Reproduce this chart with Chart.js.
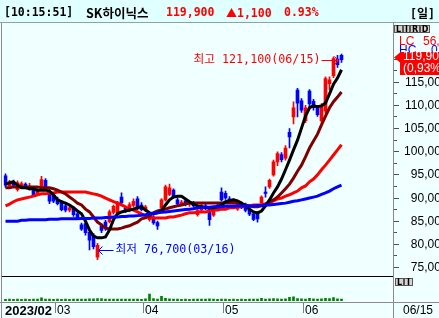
<!DOCTYPE html>
<html lang="ko">
<head>
<meta charset="utf-8">
<title>SK하이닉스</title>
<script src="https://cdn.jsdelivr.net/npm/chart.js@4.4.1/dist/chart.umd.min.js"></script>
<style>
html,body{margin:0;padding:0;width:439px;height:318px;overflow:hidden;background:#F0FFFF;}
#wrap{position:relative;width:439px;height:318px;overflow:hidden;}
#c{position:absolute;left:0;top:0;}
#hdr{position:absolute;left:0;top:0;width:439px;height:22px;background:#E0FFFF;border-bottom:1px solid #8FA3A3;}
#hdr span{position:absolute;top:0;line-height:25px;white-space:nowrap;font-weight:bold;font-size:11.5px;font-family:'DejaVu Sans Mono','Liberation Mono',monospace;color:#000;}
#hdr span.k{font-family:'Noto Sans CJK KR',sans-serif;font-size:12.5px;}
#hdr span.r{color:#F00;}
#hdr b.cj{font-family:'Noto Sans CJK KR',sans-serif;font-weight:bold;}
</style>
</head>
<body>
<div id="wrap">
<canvas id="c" width="439" height="318"></canvas>
<div id="hdr">
<span style="left:4px">[10:15:51]</span>
<span class="k" style="left:86px">SK하이닉스</span>
<span class="r" style="left:166px">119,900</span>
<span class="r" style="left:226px"><b class="cj" style="font-size:11px">▲</b>1,100</span>
<span class="r" style="left:284px">0.93%</span>
<span style="left:410px">[<b class="cj" style="font-size:12px">일</b>]</span>
</div>
</div>
<script>
// ---------------- data ----------------
const yearLabel = '2023';
const dates = ['02/10','02/13','02/14','02/15','02/16','02/17','02/20','02/21','02/22','02/23','02/24','02/27','02/28',
'03/02','03/03','03/06','03/07','03/08','03/09','03/10','03/13','03/14','03/15','03/16','03/17','03/20','03/21','03/22','03/23','03/24','03/27','03/28','03/29','03/30','03/31',
'04/03','04/04','04/05','04/06','04/07','04/10','04/11','04/12','04/13','04/14','04/17','04/18','04/19','04/20','04/21','04/24','04/25','04/26','04/27','04/28',
'05/02','05/03','05/04','05/08','05/09','05/10','05/11','05/12','05/15','05/16','05/17','05/18','05/19','05/22','05/23','05/24','05/25','05/26','05/30','05/31',
'06/01','06/02','06/05','06/07','06/08','06/09','06/12','06/13','06/14','06/15'];

const opens = [94800,92600,93400,91800,92600,93000,92000,91800,90900,92300,
93800,91400,90600,89800,89100,88300,87400,87900,86600,84200,
84500,82600,82000,77200,84000,84800,84900,86900,86800,90200,
87800,87300,88400,89800,88500,87400,85300,85900,84700,87800,
89600,90800,91700,89600,88700,89400,88600,88900,86400,87400,
88300,88000,86300,88400,91300,91000,89800,89000,87600,88700,
88500,87600,86600,86800,88900,91300,92400,95000,97800,99400,
98600,104200,107500,113300,111000,106700,113100,110900,109400,106700,
108800,114700,116400,120000,120800];

const highs = [95200,93800,93900,93700,93500,93300,93200,92300,92000,94700,
94200,91800,91000,90200,89500,88700,88300,88200,87000,84600,
84900,82900,82300,80200,84500,85200,87400,88500,89300,91100,
88200,89000,89800,90300,89000,88400,86500,86200,85000,89900,
92800,93000,92000,90000,89500,89800,89200,89300,87700,88800,
88700,88200,87600,88700,92200,91500,90300,89900,89000,89100,
88900,88000,86900,87000,90500,92400,94100,98200,100000,99800,
101300,105000,110800,113700,111500,110000,113400,111300,109900,110400,
116200,116200,120500,120800,121100];

const lows = [92300,92100,92400,91500,92200,92000,91700,90400,90600,91900,
92000,88800,89000,88500,87200,87000,87000,86000,85300,83000,
82000,78800,79000,76700,82500,83000,84600,86500,86500,88700,
86900,87000,88000,87500,87200,87100,85000,84300,83200,87500,
89300,90500,90000,88400,88400,88300,88200,88000,86100,87200,
87500,84100,86000,87200,89300,89700,88800,88700,87300,87700,
87000,86200,85100,84800,88600,90200,92100,94700,97000,97800,
98200,100800,106000,107500,108500,106300,109300,109000,107600,106300,
108300,113400,116000,118200,119300];

const closes = [92800,93300,92700,93300,93100,92400,92600,90700,91600,94000,
92400,89300,89300,88800,87500,87400,87900,86400,85700,83300,
82500,80900,79500,79800,83000,83400,87000,88200,89000,89000,
87200,88600,89300,87800,87500,88100,86100,84600,84000,89600,
92400,92200,90300,88700,89100,88600,88900,88300,87300,88400,
87800,85300,87300,87500,89600,90000,89200,89500,88700,88000,
87300,86500,85400,85500,90200,91000,93800,97800,99600,98300,
100800,103200,109500,110500,109000,109500,110300,109500,108000,110000,
115800,115500,120100,118800,119900];

// volume (thousand shares)
const volumes = [600,650,600,700,600,650,600,700,650,1100,
700,650,600,650,600,700,600,650,700,650,
700,800,750,900,900,700,650,700,650,700,
650,700,650,700,600,800,2500,900,700,1700,
1000,800,700,650,600,650,600,650,700,650,
700,750,650,600,700,650,600,650,600,650,
600,650,700,650,1000,700,800,900,800,700,
800,1300,1500,900,800,700,1000,800,700,800,
1000,900,1200,800,700];

// moving averages
const ma5 = [93000,93300,93500,92800,92200,92200,92000,92000,91700,91700,
91700,91500,90700,89600,89200,88900,88500,87900,87200,86600,
85000,83100,81800,81400,81400,81600,83100,85300,86600,87000,
87200,87400,87600,87900,88100,87400,86800,86600,86800,87200,
88500,89600,90200,90400,90400,89800,89200,88700,88300,88100,
87900,87900,87900,88100,88500,89200,89400,89600,89400,88900,
88300,87600,87000,86800,87200,88300,89600,91100,92400,94100,
96100,98200,100400,102500,105100,107700,109500,109900,109700,109900,
110500,112500,114600,115900,117700];

const ma20 = [92200,92200,92400,92400,92400,92400,92400,92400,92400,92200,
92200,92200,92000,91700,91300,90900,90200,89600,88900,88500,
87600,87000,85900,84800,84200,83500,83300,83300,83300,83500,
83800,84000,84400,84800,85500,85700,86100,86800,87200,87400,
87600,87900,88100,88300,88500,88700,88900,88900,88900,88900,
88900,88900,88900,88900,88900,88900,88900,88900,88900,88700,
88500,88300,88100,88100,88300,88700,89200,89600,90200,91100,
92000,93000,94300,95800,97100,98900,100800,102300,103800,105800,
107700,109500,110800,111800,112900];

const ma60 = [88300,88700,89200,89600,89800,90000,90200,90400,90700,90900,
90900,91100,91100,91300,91300,91300,91300,91300,91300,91300,
91300,91100,90900,90700,90400,90000,89600,89200,88900,88500,
88100,87600,87400,87000,86600,86100,85900,85700,85700,85700,
85700,85900,85900,86100,86300,86600,86800,86800,87000,87000,
87000,87200,87400,87400,87600,87600,87900,87900,88100,88100,
88300,88300,88500,88500,88500,88700,88900,89400,89800,90000,
90400,90700,91100,91500,92200,92600,93500,94100,95000,96100,
97100,98200,99300,100400,101500];

const ma120 = [85000,85000,85000,85000,85200,85200,85300,85300,85300,85300,
85300,85400,85400,85400,85500,85500,85500,85500,85500,85600,
85600,85600,85700,85700,85700,85800,85800,85900,85900,86000,
86000,86100,86100,86200,86300,86400,86600,86700,86800,86900,
87000,87100,87200,87300,87400,87500,87600,87700,87900,87900,
88000,88000,88100,88100,88100,88200,88200,88200,88300,88300,
88300,88300,88300,88400,88400,88500,88500,88600,88700,88800,
88900,89100,89300,89400,89600,89800,90000,90200,90400,90800,
91100,91500,92000,92400,92800];

const priceTicks = [75000,80000,85000,90000,95000,100000,105000,110000,115000,120000];
const minorTicks = [77500,82500,87500,92500,97500,102500,107500,112500,117500];
const padSlots = 12;
const changePct = '(0,93%)';

// ---------------- chart ----------------
const UP = '#FF0000', DOWN = '#0000FF';
const candleColors = opens.map((o, i) => closes[i] >= o ? UP : DOWN);
const labels = dates.concat(new Array(padSlots).fill(''));
const fmt = v => String(v).replace(/\B(?=(\d{3})+(?!\d))/g, ',');

const decor = {
  id: 'decor',
  beforeDraw(chart) {
    const ctx = chart.ctx;
    ctx.save();
    ctx.fillStyle = '#F0FFFF';
    ctx.fillRect(0, 0, chart.width, chart.height);
    ctx.restore();
  },
  afterDraw(chart) {
    const ctx = chart.ctx, xs = chart.scales.x, ys = chart.scales.y;
    const W = chart.width;
    ctx.save();
    // frame lines
    ctx.fillStyle = '#8A8A8A';
    ctx.fillRect(1, 23, 1, 295);
    ctx.fillRect(393, 23, 1, 295);
    ctx.fillRect(0, 302, W, 1);
    ctx.fillStyle = '#000';
    ctx.fillRect(2, 276, 391, 1);

    // price axis
    ctx.font = "12px 'Liberation Sans', Arial, sans-serif";
    ctx.textAlign = 'right';
    ctx.textBaseline = 'middle';
    priceTicks.forEach(v => {
      const py = Math.floor(ys.getPixelForValue(v));
      ctx.fillStyle = '#505050';
      ctx.fillRect(394, py, 5, 1);
      ctx.fillStyle = '#000';
      ctx.fillText(fmt(v), 447.5, py + 0.5);
    });
    minorTicks.forEach(v => {
      const py = Math.floor(ys.getPixelForValue(v));
      ctx.fillStyle = '#505050';
      ctx.fillRect(394, py, 3, 1);
    });

    // LC / HC info
    ctx.textAlign = 'left';
    ctx.fillStyle = '#FF0000';
    ctx.fillText('LC', 399, 41.5);
    ctx.fillText('56,', 423, 41.5);
    ctx.fillStyle = '#0000FF';
    ctx.fillText('HC', 399, 51);
    ctx.fillText('0', 431, 51);

    // current price box
    const last = closes.length - 1;
    const cp = ys.getPixelForValue(closes[last]);
    ctx.fillStyle = '#FF0000';
    ctx.beginPath();
    ctx.moveTo(394, cp - 2);
    ctx.lineTo(400, cp - 7);
    ctx.lineTo(400, cp + 3);
    ctx.closePath();
    ctx.fill();
    ctx.fillRect(400, Math.round(cp - 8), 39, 23);
    ctx.fillStyle = '#FFFFFF';
    ctx.fillText(fmt(closes[last]), 403, cp - 2.5);
    ctx.fillText(changePct, 403, cp + 9);

    // buttons
    const btn = (x0, w, y0, h, t) => {
      ctx.fillStyle = '#D6D3CE';
      ctx.fillRect(x0, y0, w, h);
      ctx.strokeStyle = '#555';
      ctx.lineWidth = 1;
      ctx.strokeRect(x0 + 0.5, y0 + 0.5, w - 1, h - 1);
      ctx.fillStyle = '#000';
      ctx.font = "bold 8px 'DejaVu Sans', sans-serif";
      ctx.textAlign = 'center';
      ctx.fillText(t, x0 + w / 2, y0 + h / 2 + 0.5);
    };
    btn(394, 9, 25, 8, 'L'); btn(403, 7, 25, 8, 'I'); btn(410, 10, 25, 8, 'R'); btn(420, 10, 25, 8, 'D');
    btn(395, 9, 278, 8, 'L'); btn(404, 9, 278, 8, 'I');

    // date axis
    ctx.textAlign = 'left';
    ctx.textBaseline = 'middle';
    dates.forEach((d, i) => {
      const m = d.slice(0, 2);
      if (i === 0 || m !== dates[i - 1].slice(0, 2)) {
        const left = Math.floor(xs.getPixelForValue(i) - 2);
        ctx.fillStyle = '#000';
        if (i === 0) {
          ctx.font = "bold 13px 'Liberation Sans', Arial, sans-serif";
          ctx.fillText(yearLabel + '/' + m, left + 2, 311);
        } else {
          ctx.fillStyle = '#808080';
          ctx.fillRect(left, 303, 1, 10);
          ctx.fillStyle = '#000';
          ctx.font = "12px 'Liberation Sans', Arial, sans-serif";
          ctx.fillText(m, left + 2, 311);
        }
      }
    });
    ctx.font = "12px 'Liberation Sans', Arial, sans-serif";
    ctx.fillStyle = '#000';
    ctx.fillText(dates[last], 403, 311);

    // high / low annotations
    ctx.font = "11.7px 'DejaVu Sans Mono', 'Noto Sans CJK KR', monospace";
    ctx.lineWidth = 1;
    const iMax = highs.indexOf(Math.max(...highs));
    const hx = xs.getPixelForValue(iMax);
    const hy = Math.round(ys.getPixelForValue(highs[iMax]) + 6);
    ctx.fillStyle = '#FF0000'; ctx.strokeStyle = '#FF0000';
    ctx.textAlign = 'right';
    ctx.fillText('최고 ' + fmt(highs[iMax]) + '(' + dates[iMax] + ')', hx - 21, hy);
    ctx.beginPath();
    ctx.moveTo(hx - 20, hy + 0.5); ctx.lineTo(hx - 3, hy + 0.5);
    ctx.moveTo(hx - 7, hy - 3.5); ctx.lineTo(hx - 3, hy + 0.5); ctx.lineTo(hx - 7, hy + 4.5);
    ctx.stroke();

    const iMin = lows.indexOf(Math.min(...lows));
    const lx = xs.getPixelForValue(iMin);
    const ly = Math.round(ys.getPixelForValue(lows[iMin]) - 10);
    ctx.fillStyle = '#0000FF'; ctx.strokeStyle = '#0000FF';
    ctx.textAlign = 'left';
    ctx.beginPath();
    ctx.moveTo(lx + 1, ly + 0.5); ctx.lineTo(lx + 16, ly + 0.5);
    ctx.moveTo(lx + 5, ly - 3.5); ctx.lineTo(lx + 1, ly + 0.5); ctx.lineTo(lx + 5, ly + 4.5);
    ctx.stroke();
    ctx.fillText('최저 ' + fmt(lows[iMin]) + '(' + dates[iMin] + ')', lx + 18, ly);
    ctx.restore();
  }
};

const lineDs = (label, data, color, order) => ({
  type: 'line', label, data, borderColor: color, borderWidth: 3,
  pointRadius: 0, tension: 0, fill: false, order
});

new Chart(document.getElementById('c'), {
  type: 'bar',
  data: {
    labels,
    datasets: [
      lineDs('MA120', ma120, '#0000FF', 1),
      lineDs('MA5', ma5, '#000000', 2),
      lineDs('MA20', ma20, '#800000', 3),
      lineDs('MA60', ma60, '#FF0000', 4),
      { label: 'body', data: opens.map((o, i) => [o, closes[i]]), backgroundColor: candleColors,
        barThickness: 3, grouped: false, minBarLength: 1, order: 8 },
      { label: 'wick', data: lows.map((l, i) => [l, highs[i]]), backgroundColor: candleColors,
        barThickness: 1, grouped: false, order: 9 },
      { label: 'volume', data: volumes, yAxisID: 'yv', backgroundColor: '#008000',
        barThickness: 2, grouped: false, order: 10 }
    ]
  },
  options: {
    responsive: false,
    animation: false,
    events: [],
    layout: { padding: { left: 3.5, right: 47.5, top: 23, bottom: 17 } },
    plugins: { legend: { display: false }, tooltip: { enabled: false } },
    scales: {
      x: { display: false, offset: true },
      y: { display: false, min: 67760, max: 127800 },
      yv: { display: false, min: 0, max: 100000 }
    }
  },
  plugins: [decor]
});
</script>
</body>
</html>
